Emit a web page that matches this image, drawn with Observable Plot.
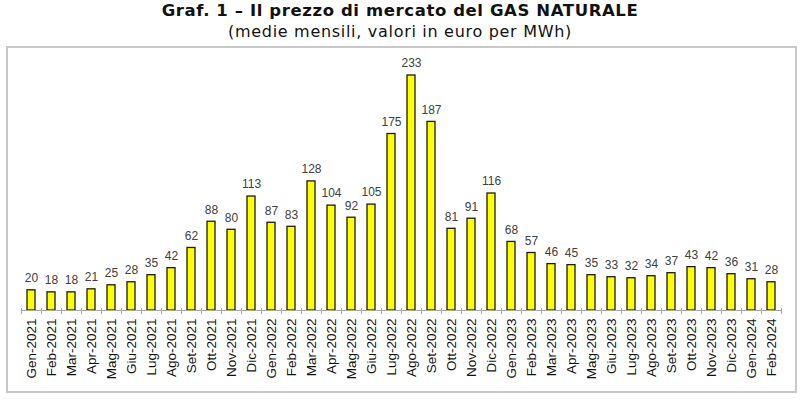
<!DOCTYPE html>
<html>
<head>
<meta charset="utf-8">
<script src="https://cdn.jsdelivr.net/npm/d3@7"></script>
<script src="https://cdn.jsdelivr.net/npm/@observablehq/plot@0.6"></script>
<style>
  html, body { margin: 0; padding: 0; background: #fff; width: 800px; height: 399px; overflow: hidden; }
  #title { position: absolute; left: 0; top: 1px; width: 800px; text-align: center;
    font-family: "DejaVu Sans", Verdana, sans-serif; font-weight: bold; font-size: 16.5px; letter-spacing: 0.6px; color: #111; }
  #subtitle { position: absolute; left: 0; top: 22px; width: 800px; text-align: center;
    font-family: "DejaVu Sans", Verdana, sans-serif; font-size: 16px; letter-spacing: 0.7px; color: #111; }
  #box { position: absolute; left: 6px; top: 46px; width: 787px; height: 343px; border: 2px solid #c8c8c8; }
  #box svg { display: block; }
</style>
</head>
<body>
<div id="title">Graf. 1 – Il prezzo di mercato del GAS NATURALE</div>
<div id="subtitle">(medie mensili, valori in euro per MWh)</div>
<div id="box"></div>
<script>
const months = [
  "Gen-2021","Feb-2021","Mar-2021","Apr-2021","Mag-2021","Giu-2021","Lug-2021","Ago-2021","Set-2021","Ott-2021","Nov-2021","Dic-2021",
  "Gen-2022","Feb-2022","Mar-2022","Apr-2022","Mag-2022","Giu-2022","Lug-2022","Ago-2022","Set-2022","Ott-2022","Nov-2022","Dic-2022",
  "Gen-2023","Feb-2023","Mar-2023","Apr-2023","Mag-2023","Giu-2023","Lug-2023","Ago-2023","Set-2023","Ott-2023","Nov-2023","Dic-2023",
  "Gen-2024","Feb-2024"
];
const prices = [
  20,18,18,21,25,28,35,42,62,88,80,113,
  87,83,128,104,92,105,175,233,187,81,91,116,
  68,57,46,45,35,33,32,34,37,43,42,36,
  31,28
];
const data = months.map((m, i) => ({month: m, price: prices[i]}));
const lastMonth = [months[months.length - 1]];

const chart = Plot.plot({
  width: 787,
  height: 343,
  marginLeft: 13,
  marginRight: 14,
  marginTop: 27,
  marginBottom: 81,
  style: {fontFamily: "'Liberation Sans', Arial, sans-serif", background: "white"},
  x: {type: "band", domain: months, paddingInner: 0.6, paddingOuter: 0.3, label: null},
  y: {domain: [0, 233], axis: null},
  marks: [
    Plot.barY(data, {x: "month", y: "price", fill: "#ffff00", stroke: "#1a1a1a", strokeWidth: 1.3}),
    Plot.ruleY([0], {stroke: "#a6a6a6", strokeWidth: 1}),
    Plot.ruleX(months, {x: d => d, y1: 2, y2: -4, dx: -10, stroke: "#a6a6a6"}),
    Plot.ruleX(lastMonth, {x: d => d, y1: 2, y2: -4, dx: 10, stroke: "#a6a6a6"}),
    Plot.text(data, {x: "month", y: "price", text: d => String(d.price), dy: -12, fontSize: 12, fill: "#404040"}),
    Plot.axisX({tickRotate: -90, tickSize: 0, tickPadding: 8, fontSize: 13.5, fill: "#111", label: null})
  ]
});
document.getElementById("box").appendChild(chart);
</script>
</body>
</html>
